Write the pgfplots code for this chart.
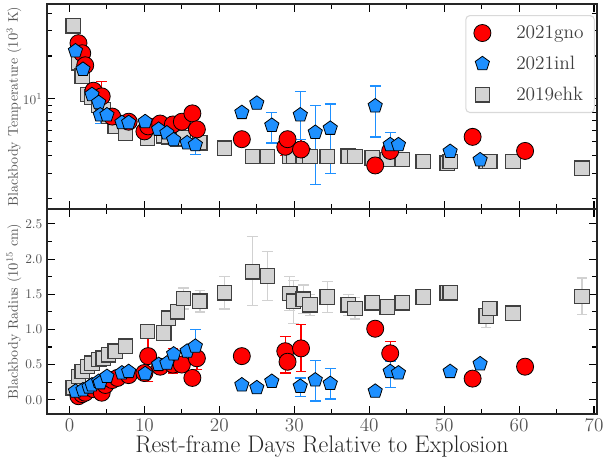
\documentclass[border=0pt]{standalone}
\usepackage{pgfplots}
\usepackage{pgfplotstable}
\pgfplotsset{compat=1.18}
\usetikzlibrary{plotmarks}
\definecolor{gnored}{RGB}{255,0,0}
\definecolor{inlblue}{RGB}{30,144,255}
\definecolor{ehkgray}{RGB}{211,211,211}
\definecolor{labgray}{RGB}{85,85,85}

% 2021gno
\pgfplotstableread{
x y ep em
1.2 24.6 0 0
1.7 20.9 0 0
2.1 17.2 0 0
3.2 11.4 0 0
4.3 10.4 2.8 1.5
5.7 7.5 0 0
7.9 6.9 0 0
10.0 5.9 0 0
10.5 6.4 0.8 1.0
12.1 6.7 0 0
13.8 6.6 0.5 0.4
15.0 6.9 0.8 0.5
16.4 7.9 0 0
17.0 6.1 0 0
23.0 5.2 0 0
28.8 4.6 0.4 0.6
29.1 5.2 0 0
30.9 4.4 0.8 0.7
40.8 3.4 0 0
42.8 4.3 0 0
53.8 5.4 0 0
60.8 4.3 0 0
}\gnoT
\pgfplotstableread{
x y ep em
1.2 0.05 0 0
1.7 0.08 0 0
2.1 0.10 0 0
3.2 0.15 0 0
4.3 0.10 0 0
4.8 0.21 0 0
5.7 0.28 0 0
6.4 0.31 0 0
7.9 0.35 0 0
10.0 0.38 0 0
10.5 0.62 0.28 0.36
12.1 0.47 0 0
13.8 0.50 0.23 0.12
15.0 0.50 0 0
16.4 0.31 0 0
17.0 0.59 0.05 0.16
23.0 0.62 0 0
28.8 0.69 0.21 0.31
29.1 0.54 0 0
30.9 0.73 0.34 0.33
40.8 1.01 0 0
42.8 0.66 0.17 0.10
53.8 0.30 0 0
60.8 0.47 0 0
}\gnoR

% 2021inl
\pgfplotstableread{
x y ep em
0.8 21.7 0 0
1.8 16.1 0 0
3.0 10.7 0 0
3.9 9.4 0 0
4.1 7.7 0 1.0
5.0 7.7 0 0
7.0 6.8 0 0
7.9 6.8 0 0
10.1 6.9 0 0
11.9 6.1 0 0
13.0 5.75 0 0
13.9 5.15 0 0
15.7 4.9 0 0
16.8 4.75 0 0.7
23.0 8.0 0 0
25.0 9.3 0 0
27.0 6.5 1.5 1.6
30.8 7.7 3.5 2.5
32.8 5.8 3.2 3.3
34.8 6.2 3.0 3.2
40.8 8.9 3.4 3.5
42.8 4.75 1.05 1.25
43.9 4.75 0 0
50.8 4.26 0 0
54.8 3.72 0 0
}\inlT
\pgfplotstableread{
x y ep em
0.8 0.12 0 0
1.8 0.14 0 0
2.6 0.18 0 0
3.0 0.21 0 0
3.9 0.26 0 0
4.1 0.24 0 0
5.0 0.33 0 0
7.0 0.38 0 0
7.9 0.40 0 0
10.1 0.37 0 0
11.9 0.50 0 0
13.0 0.52 0 0
13.9 0.65 0 0
15.7 0.69 0 0
16.8 0.76 0.24 0.10
23.0 0.21 0 0
25.0 0.17 0 0
27.0 0.26 0.05 0.05
30.8 0.19 0.12 0.14
32.8 0.28 0.28 0.30
34.8 0.23 0.21 0.22
40.8 0.12 0 0
42.8 0.40 0.15 0.23
43.9 0.38 0 0
50.8 0.40 0 0
54.8 0.51 0.05 0.05
}\inlR

% 2019ehk
\pgfplotstableread{
x y ep em
0.5 32.6 0 0
1.2 17.9 0 0
1.7 14.4 0 0
2.4 10.7 0 0
3.0 10.3 0 0
3.9 9.0 0 0
4.5 8.4 0 0
5.2 7.5 0 0
6.1 6.4 0 0
7.5 5.75 0 0
10.4 5.3 0 0
12.6 5.5 0 0
13.2 5.4 0 0
14.4 5.2 0 0
15.2 5.3 0 0
17.4 4.9 0 0
20.7 4.5 0 0
24.4 3.93 0 0
26.4 3.93 0 0
29.4 3.93 0 0
29.9 3.93 0 0
31.2 3.95 0 0
32.1 3.93 0 0
34.4 3.93 0 0
37.2 3.95 0 0
38.1 3.93 0 0
40.4 3.83 0 0
42.4 3.75 0 0
44.4 3.75 0 0
47.2 3.62 0 0
50.4 3.53 0 0
50.8 3.62 0 0
55.6 3.62 0 0
56.1 3.62 0 0
59.2 3.62 0 0
68.4 3.25 0 0
}\ehkT
\pgfplotstableread{
x y ep em
0.5 0.17 0 0
1.2 0.33 0 0
1.7 0.40 0 0
2.4 0.47 0 0
3.0 0.52 0 0
3.9 0.57 0 0
4.5 0.59 0 0
5.2 0.64 0 0
6.1 0.69 0 0
7.5 0.76 0 0
10.4 0.97 0 0
12.6 0.95 0 0
13.2 1.16 0 0
14.4 1.25 0 0
15.2 1.44 0.15 0.15
17.4 1.40 0.15 0.15
20.7 1.52 0.23 0.23
24.4 1.82 0.50 0.48
26.4 1.76 0.35 0.35
29.4 1.51 0.24 0.24
29.9 1.40 0.30 0.32
31.2 1.43 0.20 0.20
32.1 1.35 0.15 0.15
34.4 1.46 0.22 0.22
37.2 1.35 0.15 0.15
38.1 1.30 0.15 0.15
40.4 1.38 0.10 0.10
42.4 1.32 0.10 0.10
44.4 1.38 0.05 0.05
47.2 1.46 0.05 0.05
50.4 1.52 0.05 0.05
50.8 1.52 0.05 0.05
55.6 1.19 0.10 0.16
56.1 1.30 0.05 0.05
59.2 1.23 0.05 0.05
68.4 1.47 0.26 0.26
}\ehkR

\pgfplotsset{
  myaxis/.style={
    scale only axis, width=412.5pt, height=153.75pt,
    xmin=-3, xmax=70.4,
    xtick={0,10,...,70}, minor xtick={5,15,...,65},
    tick align=inside, xtick pos=both, ytick pos=both,
    major tick length=6pt, minor tick length=3.5pt,
    tick style={black, line width=0.8pt},
    axis line style={line width=0.8pt, black!85},
    tick label style={text=labgray},
    yticklabel style={font=\fontsize{10}{10}\selectfont},
    xticklabel style={font=\fontsize{14.5}{14.5}\selectfont, inner sep=1pt, yshift=-3pt},
    ylabel style={at={(axis description cs:-0.06,0.5)}, anchor=center, text=labgray, font=\fontsize{10.5}{10.5}\selectfont},
  },
  gno/.style={only marks, mark=*, mark size=6.4pt, mark options={fill=gnored, draw=black, line width=0.6pt}},
  inl/.style={only marks, mark=pentagon*, mark size=5.6pt, mark options={fill=inlblue, draw=black, line width=0.6pt}},
  ehk/.style={only marks, mark=square*, mark size=5.4pt, mark options={fill=ehkgray, draw=black!75, line width=0.9pt}},
  gnoerr/.style={error bars/.cd, y dir=both, y explicit, error bar style={gnored, line width=1pt}, error mark options={rotate=90, gnored, mark size=4pt, line width=1pt}},
  inlerr/.style={error bars/.cd, y dir=both, y explicit, error bar style={inlblue, line width=1pt}, error mark options={rotate=90, inlblue, mark size=4pt, line width=1pt}},
  ehkerr/.style={error bars/.cd, y dir=both, y explicit, error bar style={black!18, line width=1pt}, error mark options={rotate=90, black!18, mark size=4pt, line width=1pt}},
}

\begin{document}
\begin{tikzpicture}
% top panel
\begin{axis}[myaxis, at={(0pt,153.75pt)}, anchor=south west,
  ymode=log, ymin=1.68, ymax=46.4,
  ytick={10}, yticklabels={$10^1$}, minor ytick={2,3,4,5,6,7,8,9,20,30,40},
  xticklabels={},
  ylabel={Blackbody Temperature ($10^3$ K)},
  legend style={at={(axis description cs:0.996,0.946)}, anchor=north east,
    draw=black!15, line width=0.8pt, rounded corners=3pt, fill=white,
    font=\fontsize{14.5}{14.5}\selectfont, text=black!75,
    inner xsep=6pt, inner ysep=5.5pt, row sep=7.7pt,
    /tikz/every odd column/.append style={column sep=17pt}},
  legend cell align=left,
]
\addlegendimage{gno}
\addlegendentry{2021gno}
\addlegendimage{inl}
\addlegendentry{2021inl}
\addlegendimage{ehk}
\addlegendentry{2019ehk}
\addplot[ehk, forget plot, ehkerr] table[x=x,y=y,y error plus=ep,y error minus=em]{\ehkT};
\addplot[gno, forget plot, gnoerr] table[x=x,y=y,y error plus=ep,y error minus=em]{\gnoT};
\addplot[inl, forget plot, inlerr] table[x=x,y=y,y error plus=ep,y error minus=em]{\inlT};
\end{axis}
% bottom panel
\begin{axis}[myaxis, at={(0pt,0pt)}, anchor=south west,
  ymin=-0.203, ymax=2.713,
  ytick={0,0.5,...,2.5}, minor ytick={0.25,0.75,...,2.75},
  yticklabel style={/pgf/number format/.cd, fixed, fixed zerofill, precision=1},
  ylabel={Blackbody Radius ($10^{15}$ cm)},
  xlabel={Rest-frame Days Relative to Explosion},
  xlabel style={at={(axis description cs:0.5,0)}, anchor=center, inner sep=0pt, yshift=-24.5pt, text=black!85, font=\fontsize{18}{18}\selectfont},
]
\addplot[ehk, ehkerr] table[x=x,y=y,y error plus=ep,y error minus=em]{\ehkR};
\addplot[gno, gnoerr] table[x=x,y=y,y error plus=ep,y error minus=em]{\gnoR};
\addplot[inl, inlerr] table[x=x,y=y,y error plus=ep,y error minus=em]{\inlR};
\end{axis}
\pgfresetboundingbox
\path[use as bounding box] (-35.25pt,-33.75pt) rectangle (419.25pt,310.5pt);
\end{tikzpicture}
\end{document}
